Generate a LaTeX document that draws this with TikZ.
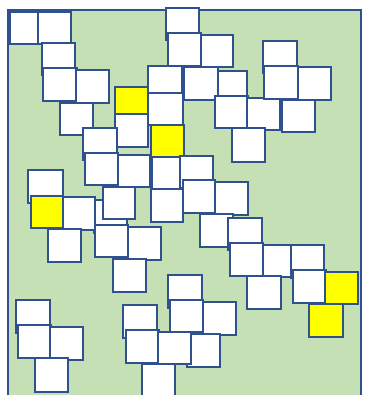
\documentclass[tikz,border=0pt]{standalone}
\definecolor{boardgreen}{HTML}{C5E0B4}
\definecolor{edgeblue}{HTML}{2F528F}
\definecolor{hotyellow}{HTML}{FFFF00}

\begin{document}
\begin{tikzpicture}[line width=2.7pt, line join=miter, x=1pt, y=-1pt,
  tile/.style={draw=edgeblue, fill=white},
  hottile/.style={draw=edgeblue, fill=hotyellow},
  board/.style={draw=edgeblue, fill=boardgreen, line width=2.6pt}]
  \useasboundingbox (0,0) rectangle (365,395);
  \clip (0,0) rectangle (365,395);
  % Board.
  \draw[board] (8,10) rectangle (361,410);
  % Top-left cluster.
  \draw[tile] (10,12) rectangle (43,44);
  \draw[tile] (38,12) rectangle (71,44);
  \draw[tile] (42,43) rectangle (75,75);
  \draw[tile] (43,68) rectangle (77,101);
  \draw[tile] (76,70) rectangle (109,103);
  \draw[tile] (60,103) rectangle (93,135);
  \draw[hottile] (115,87) rectangle (148,119);
  \draw[tile] (115,114) rectangle (148,147);
  \draw[tile] (83,128) rectangle (117,160);
  \draw[tile] (85,153) rectangle (118,185);
  \draw[tile] (118,155) rectangle (150,187);
  % Centre column.
  \draw[tile] (166,8) rectangle (199,40);
  \draw[tile] (168,33) rectangle (201,66);
  \draw[tile] (201,35) rectangle (233,67);
  \draw[tile] (148,66) rectangle (182,98);
  \draw[tile] (148,93) rectangle (183,125);
  \draw[hottile] (151,125) rectangle (184,157);
  \draw[tile] (152,157) rectangle (183,189);
  \draw[tile] (151,189) rectangle (183,222);
  % Top-right cluster.
  \draw[tile] (215,71) rectangle (247,103);
  \draw[tile] (184,67) rectangle (218,100);
  \draw[tile] (215,96) rectangle (248,128);
  \draw[tile] (247,98) rectangle (280,130);
  \draw[tile] (282,100) rectangle (315,132);
  \draw[tile] (263,41) rectangle (297,73);
  \draw[tile] (264,66) rectangle (298,99);
  \draw[tile] (298,67) rectangle (331,100);
  \draw[tile] (232,128) rectangle (265,162);
  % Right diagonal run.
  \draw[tile] (180,156) rectangle (213,188);
  \draw[tile] (183,180) rectangle (215,213);
  \draw[tile] (215,182) rectangle (248,215);
  \draw[tile] (200,214) rectangle (233,247);
  \draw[tile] (228,218) rectangle (262,250);
  \draw[tile] (230,243) rectangle (263,276);
  \draw[tile] (263,245) rectangle (296,277);
  \draw[tile] (291,245) rectangle (324,278);
  \draw[tile] (247,276) rectangle (281,309);
  \draw[tile] (293,270) rectangle (326,303);
  \draw[hottile] (325,272) rectangle (358,304);
  \draw[hottile] (309,304) rectangle (343,337);
  % Left middle cluster.
  \draw[tile] (28,170) rectangle (63,203);
  \draw[hottile] (31,196) rectangle (63,228);
  \draw[tile] (94,200) rectangle (127,233);
  \draw[tile] (63,197) rectangle (95,230);
  \draw[tile] (103,187) rectangle (135,219);
  \draw[tile] (48,229) rectangle (81,262);
  \draw[tile] (95,225) rectangle (128,257);
  \draw[tile] (128,227) rectangle (161,260);
  \draw[tile] (113,259) rectangle (146,292);
  % Bottom-left cluster.
  \draw[tile] (16,300) rectangle (50,333);
  \draw[tile] (18,325) rectangle (51,358);
  \draw[tile] (50,327) rectangle (83,360);
  \draw[tile] (35,358) rectangle (68,392);
  % Bottom-centre cluster.
  \draw[tile] (168,275) rectangle (202,308);
  \draw[tile] (170,300) rectangle (203,332);
  \draw[tile] (203,302) rectangle (236,335);
  \draw[tile] (123,305) rectangle (157,338);
  \draw[tile] (126,330) rectangle (159,363);
  \draw[tile] (187,334) rectangle (220,367);
  \draw[tile] (158,332) rectangle (191,364);
  \draw[tile] (142,364) rectangle (175,397);
\end{tikzpicture}
\end{document}
